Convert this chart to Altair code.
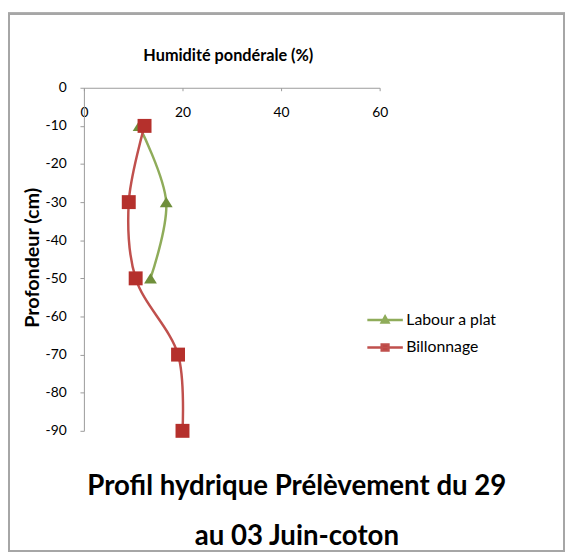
import altair as alt
import pandas as pd

# ---- data ----
series_names = ["Labour  a plat", "Billonnage"]
depth_labour = [-10, -30, -50]
labour = [11.2, 16.7, 13.5]
depth_billon = [-10, -30, -50, -70, -90]
billonnage = [12.3, 9.1, 10.5, 19.1, 20.0]
x_ticks = [0, 20, 40, 60]
y_ticks = [0, -10, -20, -30, -40, -50, -60, -70, -80, -90]
title_lines = ["Profil hydrique Prélèvement du 29", "au 03 Juin-coton"]

rows = []
for d, v in zip(depth_labour, labour):
    rows.append({"serie": series_names[0], "prof": d, "hum": v})
for d, v in zip(depth_billon, billonnage):
    rows.append({"serie": series_names[1], "prof": d, "hum": v})
df = pd.DataFrame(rows)

# ---- style ----
W, H = 300, 348
FONT = "Lato"
GREEN_LINE = "#8fac5a"
GREEN_MK = "#6f8f3b"
RED_LINE = "#c0504d"
RED_MK = "#b5302c"
AXIS_GREY = "#9a9a9a"
TRI_PLOT = "M-1,0.8L1,0.8L0,-0.8Z"
TRI_LEG = "M-1,0H1M-0.19,0.15L0.19,0.15L0,-0.19Z"
SQ_LEG = "M-1,0H1M-0.19,-0.17H0.19V0.17H-0.19Z"

x_enc = alt.X(
    "hum:Q",
    scale=alt.Scale(domain=[0, 60], nice=False),
    axis=alt.Axis(
        orient="bottom", offset=-H, values=x_ticks, grid=False, labelFlush=False,
        title="Humidité pondérale (%)", titleX=146, titleY=-33,
        titleBaseline="middle", titleFont=FONT, titleFontSize=16.5,
        titleFontWeight="bold", titleColor="black",
        labelFont=FONT, labelFontSize=14, labelColor="black",
        labelPadding=15, tickSize=3, domainColor=AXIS_GREY, tickColor=AXIS_GREY,
    ),
)
y_enc = alt.Y(
    "prof:Q",
    scale=alt.Scale(domain=[-90, 0], nice=False),
    axis=alt.Axis(
        values=y_ticks, grid=False, labelExpr="'' + datum.value", labelFlush=False,
        title="Profondeur (cm)", titleX=-52, titleY=H / 2 - 2, titleBaseline="middle",
        titleFont=FONT, titleFontSize=20, titleFontWeight="bold", titleColor="black",
        labelFont=FONT, labelFontSize=14, labelColor="black",
        labelPadding=14, tickSize=4, domainColor=AXIS_GREY, tickColor=AXIS_GREY,
    ),
)
order_enc = alt.Order("prof:Q", sort="descending")

base = alt.Chart(df)
lab = base.transform_filter(alt.datum.serie == series_names[0])
bil = base.transform_filter(alt.datum.serie == series_names[1])

line_lab = lab.mark_line(interpolate="catmull-rom", color=GREEN_LINE, strokeWidth=2.5).encode(
    x=x_enc, y=y_enc, order=order_enc)
line_bil = bil.mark_line(interpolate="catmull-rom", color=RED_LINE, strokeWidth=2.5).encode(
    x=x_enc, y=y_enc, order=order_enc)
pts_lab = lab.mark_point(filled=True, opacity=1, color=GREEN_MK, size=169, shape=TRI_PLOT).encode(
    x=x_enc, y=y_enc)
pts_bil = bil.mark_point(filled=True, opacity=1, color=RED_MK, size=200, shape="square").encode(
    x=x_enc, y=y_enc)

legend_layer = base.mark_point(filled=True, opacity=0).encode(
    x=x_enc, y=y_enc,
    color=alt.Color("serie:N", scale=alt.Scale(domain=series_names, range=[GREEN_MK, RED_MK]),
                    legend=alt.Legend(title=None)),
    stroke=alt.Stroke("serie:N", scale=alt.Scale(domain=series_names, range=[GREEN_LINE, RED_LINE]),
                      legend=alt.Legend(title=None)),
    shape=alt.Shape("serie:N", scale=alt.Scale(domain=series_names, range=[TRI_LEG, SQ_LEG]),
                    legend=alt.Legend(title=None)),
)

frame = base.mark_rect(fillOpacity=0, stroke="#a6a6a6", strokeWidth=2).encode(
    x=alt.value(-76), x2=alt.value(487), y=alt.value(-75), y2=alt.value(470))

chart = alt.layer(frame, line_lab, line_bil, pts_lab, pts_bil, legend_layer).properties(
    width=W, height=H,
    background="white",
    autosize=alt.AutoSizeParams(type="none"),
    padding={"left": 77, "top": 77, "right": 188, "bottom": 119},
    title=alt.TitleParams(
        text=title_lines, orient="bottom", anchor="middle", frame="group",
        baseline="alphabetic", offset=-58, dx=66, fontSize=28, font=FONT,
        fontWeight="bold", color="black", lineHeight=51,
    ),
).configure_view(stroke=None).configure_legend(
    orient="none", legendX=286, legendY=216, padding=0,
    symbolSize=1296, symbolStrokeWidth=2.5, symbolOpacity=1, rowPadding=-9,
    labelFont=FONT, labelFontSize=16, labelColor="black", labelOffset=2,
)

chart.save("out.html", embed_options={"renderer": "svg", "actions": False})
